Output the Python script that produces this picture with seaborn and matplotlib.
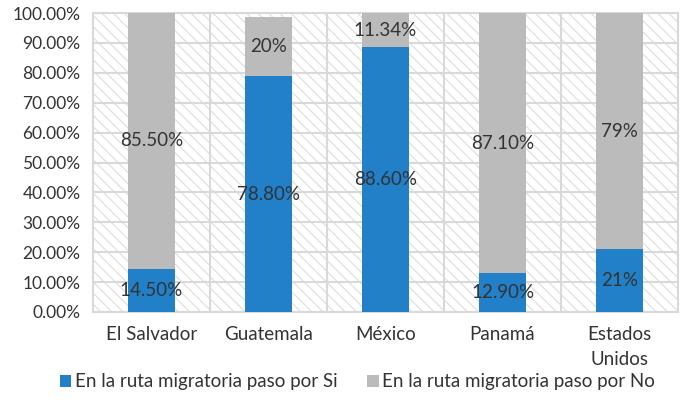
import pandas as pd
import seaborn as sns
import matplotlib.pyplot as plt
from matplotlib.patches import Rectangle

paises = ["El Salvador", "Guatemala", "México", "Panamá", "Estados\nUnidos"]
si = [14.5, 78.8, 88.6, 12.9, 21.0]
no = [85.5, 20.0, 11.34, 87.1, 79.0]
si_txt = ["14.50%", "78.80%", "88.60%", "12.90%", "21%"]
no_txt = ["85.50%", "20%", "11.34%", "87.10%", "79%"]

df = pd.DataFrame({"pais": paises, "si": si, "no": no})

sns.set_style("white")
plt.rcParams["font.family"] = ["Lato", "DejaVu Sans"]
plt.rcParams["hatch.linewidth"] = 0.8

azul = "#2180c8"
gris = "#bbbbbb"
txt = "#333333"
fs = 13.5

fig = plt.figure(figsize=(6.81, 4.17), dpi=100)
ax = fig.add_axes([0.1366, 0.2518, 0.859, 0.717])

# fondo rayado
ax.add_patch(Rectangle((0, 0), 1, 1, transform=ax.transAxes, fill=False,
                       hatch="\\\\\\", edgecolor="#dddddd", lw=0, zorder=0))

sns.barplot(data=df, x="pais", y="si", color=azul, width=0.4, ax=ax,
            saturation=1, zorder=3, edgecolor="none",
            label="En la ruta migratoria paso por Si")
sns.barplot(data=df, x="pais", y="no", bottom=df["si"], color=gris, width=0.4,
            ax=ax, saturation=1, zorder=3, edgecolor="none",
            label="En la ruta migratoria paso por No")

for i in range(len(paises)):
    ax.text(i, si[i] / 2, si_txt[i], ha="center", va="center", fontsize=fs,
            color=txt, zorder=5)
    ax.text(i, si[i] + no[i] / 2, no_txt[i], ha="center", va="center",
            fontsize=fs, color=txt, zorder=5)

ax.set_ylim(0, 100)
ax.set_xlim(-0.5, 4.5)
ax.set_yticks(range(0, 101, 10))
ax.set_yticklabels([f"{v:.2f}%" for v in range(0, 101, 10)])
ax.set_xticks([i - 0.5 for i in range(6)], minor=True)
ax.grid(axis="y", color="#d9d9d9", lw=1.5, zorder=1)
ax.grid(axis="x", which="minor", color="#d9d9d9", lw=1.5, zorder=1)
ax.tick_params(axis="both", which="both", length=0, labelsize=fs, colors=txt)
ax.tick_params(axis="y", pad=9, labelsize=12.5)
ax.tick_params(axis="x", pad=10)
for t in ax.get_xticklabels():
    t.set_linespacing(1.6)
ax.set_xlabel("")
ax.set_ylabel("")
for s in ax.spines.values():
    s.set_color("#d9d9d9")
    s.set_linewidth(1.5)

ax.legend(loc="center", bbox_to_anchor=(0.525, 0.084),
          bbox_transform=fig.transFigure, ncol=2, frameon=False, fontsize=fs,
          handlelength=0.6, handleheight=0.6, handletextpad=0.2,
          columnspacing=1.6, labelcolor=txt)

fig.savefig("out.png", dpi=100)
